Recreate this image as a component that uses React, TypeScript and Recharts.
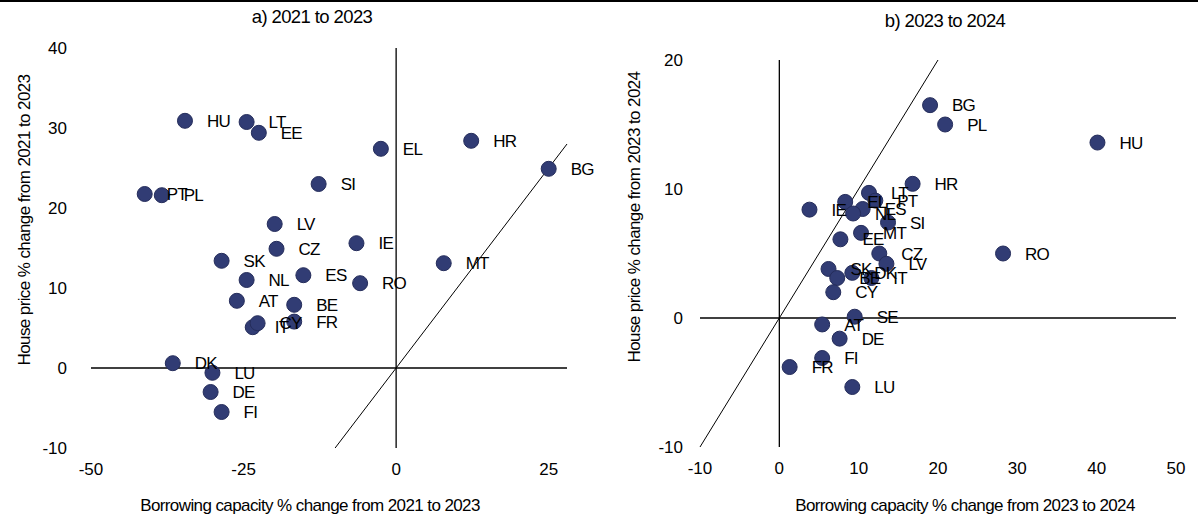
import React from 'react';
import { ScatterChart, Scatter, XAxis, YAxis, ReferenceLine } from 'recharts';

const FONT = '"Liberation Sans", Arial, sans-serif';

// a) 2021 to 2023
const countriesA = ['HU', 'LT', 'EE', 'EL', 'HR', 'BG', 'SI', 'PT', 'PL', 'LV', 'CZ', 'IE', 'SK', 'NL', 'ES', 'RO', 'MT', 'AT', 'BE', 'IT', 'CY', 'FR', 'DK', 'LU', 'DE', 'FI'];
const borrowingA = [-34.6, -24.5, -22.5, -2.5, 12.3, 25.0, -12.7, -41.2, -38.4, -19.9, -19.6, -6.5, -28.6, -24.5, -15.2, -5.9, 7.8, -26.1, -16.7, -23.5, -22.7, -16.7, -36.6, -30.1, -30.4, -28.6];
const housePriceA = [30.9, 30.75, 29.4, 27.4, 28.4, 24.9, 23.0, 21.75, 21.6, 18.0, 14.9, 15.6, 13.4, 11.0, 11.6, 10.6, 13.1, 8.4, 7.9, 5.1, 5.6, 5.8, 0.6, -0.6, -3.0, -5.5];

// b) 2023 to 2024
const countriesB = ['BG', 'PL', 'HU', 'HR', 'RO', 'LT', 'EL', 'IE', 'PT', 'ES', 'NL', 'SI', 'EE', 'MT', 'CZ', 'LV', 'SK', 'BE', 'DK', 'IT', 'CY', 'SE', 'AT', 'DE', 'FI', 'FR', 'LU'];
const borrowingB = [19.0, 20.9, 40.1, 16.8, 28.2, 11.3, 8.3, 3.8, 12.1, 10.5, 9.3, 13.7, 7.7, 10.3, 12.6, 13.5, 6.2, 7.3, 9.2, 11.6, 6.8, 9.5, 5.4, 7.6, 5.4, 1.3, 9.2];
const housePriceB = [16.5, 15.0, 13.6, 10.4, 5.0, 9.7, 9.0, 8.4, 9.1, 8.45, 8.1, 7.4, 6.1, 6.6, 5.0, 4.2, 3.8, 3.1, 3.5, 3.1, 2.0, 0.1, -0.5, -1.6, -3.1, -3.8, -5.35];

const xTicksA = [-50, -25, 0, 25];
const yTicksA = [-10, 0, 10, 20, 30, 40];
const xTicksB = [-10, 0, 10, 20, 30, 40, 50];
const yTicksB = [-10, 0, 10, 20];

const toPoints = (names: string[], xs: number[], ys: number[]) =>
  names.map((name, i) => ({ name, x: xs[i], y: ys[i] }));

const pointsA = toPoints(countriesA, borrowingA, housePriceA);
const pointsB = toPoints(countriesB, borrowingB, housePriceB);

const Dot = (props: any) => (
  <circle cx={props.cx} cy={props.cy} r={7.5} fill="#313C74" stroke="#252D5B" strokeWidth={1} />
);

const Tag = (props: any) => (
  <text x={props.cx + 22} y={props.cy} dy="0.36em" fontSize={17} fontFamily={FONT} fill="#000" letterSpacing={-0.8}>
    {props.payload.name}
  </text>
);

const tickStyle = { fontSize: 17, fontFamily: FONT, fill: '#000' };

interface PanelProps {
  points: { name: string; x: number; y: number }[];
  width: number;
  xDomain: [number, number];
  yDomain: [number, number];
  xTicks: number[];
  yTicks: number[];
  diagEnd: number;
  margin: { top: number; right: number; left: number; bottom: number };
  yAxisWidth: number;
  xAxisHeight: number;
  yTickMargin: number;
}

const Panel: React.FC<PanelProps> = ({ points, width, xDomain, yDomain, xTicks, yTicks, diagEnd, margin, yAxisWidth, xAxisHeight, yTickMargin }) => (
  <ScatterChart width={width} height={515} margin={margin}>
    <XAxis type="number" dataKey="x" domain={xDomain} ticks={xTicks} interval={0} axisLine={false} tickLine={false} height={xAxisHeight} tickMargin={9} tick={tickStyle} />
    <YAxis type="number" dataKey="y" domain={yDomain} ticks={yTicks} interval={0} axisLine={false} tickLine={false} width={yAxisWidth} tickMargin={yTickMargin} tick={tickStyle} />
    <ReferenceLine y={0} stroke="#000" strokeWidth={1.3} />
    <ReferenceLine x={0} stroke="#000" strokeWidth={1.3} />
    <ReferenceLine segment={[{ x: -10, y: -10 }, { x: diagEnd, y: diagEnd }]} stroke="#000" strokeWidth={1} />
    <Scatter data={points} shape={Dot} isAnimationActive={false} />
    <Scatter data={points} shape={Tag} isAnimationActive={false} />
  </ScatterChart>
);

const App: React.FC = () => (
  <div style={{ position: 'absolute', left: 0, top: 0, width: 1198, height: 515, background: '#fff' }}>
    <div style={{ position: 'absolute', left: 0, top: 0 }}>
      <Panel
        points={pointsA}
        width={600}
        xDomain={[-50, 28]}
        yDomain={[-10, 40]}
        xTicks={xTicksA}
        yTicks={yTicksA}
        diagEnd={28}
        margin={{ top: 48, right: 33, left: 0, bottom: 0 }}
        yAxisWidth={91}
        xAxisHeight={67}
        yTickMargin={18}
      />
    </div>
    <div style={{ position: 'absolute', left: 600, top: 0 }}>
      <Panel
        points={pointsB}
        width={598}
        xDomain={[-10, 50]}
        yDomain={[-10, 20]}
        xTicks={xTicksB}
        yTicks={yTicksB}
        diagEnd={20}
        margin={{ top: 60, right: 22, left: 0, bottom: 0 }}
        yAxisWidth={100}
        xAxisHeight={68}
        yTickMargin={11}
      />
    </div>
    <svg width={1198} height={515} style={{ position: 'absolute', left: 0, top: 0, pointerEvents: 'none' }} fontFamily={FONT} fill="#000">
      <line x1={0} y1={1} x2={1198} y2={1} stroke="#000" strokeWidth={2} />
      <text x={312} y={16} dy="0.36em" textAnchor="middle" fontSize={18.5} letterSpacing={-0.6}>a) 2021 to 2023</text>
      <text x={945} y={20} dy="0.36em" textAnchor="middle" fontSize={18.5} letterSpacing={-0.6}>b) 2023 to 2024</text>
      <text x={310} y={505} dy="0.36em" textAnchor="middle" fontSize={17} letterSpacing={-0.6}>Borrowing capacity % change from 2021 to 2023</text>
      <text x={965} y={505} dy="0.36em" textAnchor="middle" fontSize={17} letterSpacing={-0.6}>Borrowing capacity % change from 2023 to 2024</text>
      <text transform="translate(24,220) rotate(-90)" dy="0.36em" textAnchor="middle" fontSize={17} letterSpacing={-0.6}>House price % change from 2021 to 2023</text>
      <text transform="translate(634,217) rotate(-90)" dy="0.36em" textAnchor="middle" fontSize={17} letterSpacing={-0.6}>House price % change from 2023 to 2024</text>
    </svg>
  </div>
);

export default App;
